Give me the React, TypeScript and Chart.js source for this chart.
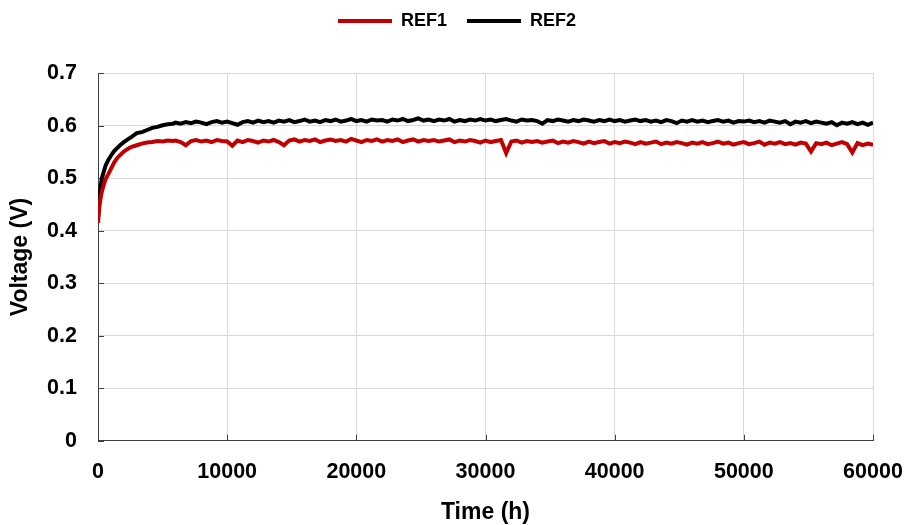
import React, { useEffect, useRef } from 'react';
import { Chart, registerables } from 'chart.js';

Chart.register(...registerables);

// Time points (h)
const hours = [
  0, 100, 200, 300, 450, 600, 800, 1000, 1250, 1500, 1750, 2000, 2300, 2600, 3000, 3400, 3800, 4200, 4600, 5000, 5400, 5800,
  6000, 6400, 6800, 7200, 7600, 8000, 8400, 8800, 9200, 9600,
  10000, 10400, 10800, 11200, 11600, 12000, 12400, 12800, 13200, 13600,
  14000, 14400, 14800, 15200, 15600, 16000, 16400, 16800, 17200, 17600,
  18000, 18400, 18800, 19200, 19600, 20000, 20400, 20800, 21200, 21600,
  22000, 22400, 22800, 23200, 23600, 24000, 24400, 24800, 25200, 25600,
  26000, 26400, 26800, 27200, 27600, 28000, 28400, 28800, 29200, 29600,
  30000, 30400, 30800, 31200, 31600, 32000, 32400, 32800, 33200, 33600,
  34000, 34400, 34800, 35200, 35600, 36000, 36400, 36800, 37200, 37600,
  38000, 38400, 38800, 39200, 39600, 40000, 40400, 40800, 41200, 41600,
  42000, 42400, 42800, 43200, 43600, 44000, 44400, 44800, 45200, 45600,
  46000, 46400, 46800, 47200, 47600, 48000, 48400, 48800, 49200, 49600,
  50000, 50400, 50800, 51200, 51600, 52000, 52400, 52800, 53200, 53600,
  54000, 54400, 54800, 55200, 55600, 56000, 56400, 56800, 57200, 57600,
  58000, 58400, 58800, 59200, 59600,
  60000,
];

// REF1 voltage (V)
const ref1 = [
  0.415, 0.445, 0.462, 0.475, 0.488, 0.499, 0.508, 0.518, 0.530, 0.539, 0.545, 0.551, 0.556, 0.560, 0.563, 0.566, 0.568, 0.569, 0.571, 0.570, 0.572, 0.571,
  0.572, 0.569, 0.563, 0.571, 0.573, 0.570, 0.572, 0.569, 0.573, 0.571,
  0.570, 0.562, 0.572, 0.569, 0.573, 0.571, 0.568, 0.572, 0.570, 0.573,
  0.569, 0.563, 0.572, 0.574, 0.570, 0.573, 0.571, 0.574, 0.569, 0.572,
  0.574, 0.571, 0.573, 0.570, 0.575, 0.572, 0.569, 0.573, 0.571, 0.574,
  0.570, 0.573, 0.571, 0.574, 0.569, 0.572, 0.574, 0.570, 0.573, 0.571,
  0.573, 0.570, 0.572, 0.574, 0.569, 0.572, 0.570, 0.573, 0.571, 0.568,
  0.572, 0.569, 0.571, 0.573, 0.548, 0.570, 0.572, 0.568, 0.571, 0.569,
  0.571, 0.568, 0.570, 0.572, 0.567, 0.570, 0.568, 0.571, 0.569, 0.566,
  0.570, 0.567, 0.569, 0.571, 0.566, 0.569, 0.567, 0.570, 0.568, 0.565,
  0.569, 0.566, 0.568, 0.570, 0.565, 0.568, 0.566, 0.569, 0.567, 0.564,
  0.568, 0.566, 0.569, 0.565, 0.567, 0.570, 0.566, 0.568, 0.564, 0.567,
  0.569, 0.565, 0.567, 0.570, 0.564, 0.568, 0.566, 0.569, 0.565, 0.567,
  0.564, 0.568, 0.566, 0.551, 0.567, 0.565, 0.568, 0.563, 0.566, 0.569,
  0.565, 0.549, 0.567, 0.563, 0.566,
  0.564,
];

// REF2 voltage (V)
const ref2 = [
  0.425, 0.462, 0.485, 0.500, 0.513, 0.525, 0.535, 0.543, 0.552, 0.558, 0.564, 0.569, 0.574, 0.579, 0.586, 0.588, 0.592, 0.596, 0.598, 0.601, 0.603, 0.604,
  0.606, 0.604, 0.607, 0.605, 0.608, 0.606, 0.603, 0.607, 0.609, 0.606,
  0.608, 0.605, 0.602, 0.607, 0.609, 0.606, 0.610, 0.607, 0.609, 0.606,
  0.610, 0.608, 0.611, 0.607, 0.609, 0.612, 0.608, 0.610, 0.607, 0.611,
  0.609, 0.612, 0.608, 0.610, 0.613, 0.609, 0.611, 0.608, 0.612, 0.610,
  0.611, 0.608, 0.612, 0.610, 0.613, 0.609, 0.611, 0.614, 0.610, 0.612,
  0.609, 0.612, 0.610, 0.613, 0.608, 0.611, 0.609, 0.612, 0.610, 0.613,
  0.610, 0.612, 0.609, 0.611, 0.613, 0.610, 0.608, 0.612, 0.610, 0.611,
  0.609, 0.604, 0.611, 0.609, 0.612, 0.610, 0.608, 0.611, 0.609, 0.612,
  0.610, 0.608, 0.611, 0.609, 0.612, 0.609, 0.611, 0.608, 0.610, 0.612,
  0.609, 0.611, 0.608, 0.610, 0.607, 0.611, 0.609, 0.605, 0.610, 0.608,
  0.611, 0.608, 0.610, 0.607, 0.609, 0.611, 0.608, 0.610, 0.606, 0.609,
  0.608, 0.610, 0.607, 0.609, 0.606, 0.610, 0.608, 0.606, 0.609, 0.603,
  0.608, 0.606, 0.609, 0.605, 0.608, 0.606, 0.604, 0.607, 0.601, 0.606,
  0.604, 0.607, 0.603, 0.606, 0.602,
  0.606,
];

const seriesNames = ['REF1', 'REF2'];
const seriesColors = ['#C00000', '#000000'];

const xTickValues = [0, 10000, 20000, 30000, 40000, 50000, 60000];
const xTickLabels = ['0', '10000', '20000', '30000', '40000', '50000', '60000'];
const yTickValues = [0, 0.1, 0.2, 0.3, 0.4, 0.5, 0.6, 0.7];
const yTickLabels = ['0', '0.1', '0.2', '0.3', '0.4', '0.5', '0.6', '0.7'];

const xTitle = 'Time (h)';
const yTitle = 'Voltage (V)';

export default function App() {
  const canvasRef = useRef<HTMLCanvasElement>(null);

  useEffect(() => {
    const FONT = "'Liberation Sans', Arial, sans-serif";
    const AXIS = '#404040';

    const innerTicks = {
      id: 'innerTicks',
      beforeDatasetsDraw(chart: any) {
        const { ctx, chartArea, scales } = chart;
        const x = scales.x;
        const y = scales.y;
        ctx.save();
        ctx.strokeStyle = AXIS;
        ctx.lineWidth = 1;
        ctx.beginPath();
        x.ticks.forEach((t: any) => {
          const px = Math.round(x.getPixelForValue(t.value)) + 0.5;
          ctx.moveTo(px, chartArea.bottom);
          ctx.lineTo(px, chartArea.bottom - 6);
        });
        y.ticks.forEach((t: any) => {
          const py = Math.round(y.getPixelForValue(t.value)) + 0.5;
          ctx.moveTo(chartArea.left, py);
          ctx.lineTo(chartArea.left + 6, py);
        });
        ctx.stroke();
        ctx.restore();
      },
    };

    // keep the legend row at the top of the canvas
    const legendTop = {
      id: 'legendTop',
      afterLayout(chart: any) {
        const lg = chart.legend;
        if (!lg) return;
        const h = lg.bottom - lg.top;
        lg.top = -8;
        lg.bottom = lg.top + h;
      },
    };

    const seriesData = [ref1, ref2];
    const chart = new Chart(canvasRef.current as HTMLCanvasElement, {
      type: 'line',
      data: {
        datasets: seriesNames.map((name, k) => ({
          label: name,
          data: hours.map((h, i) => ({ x: h, y: seriesData[k][i] })),
          borderColor: seriesColors[k],
          backgroundColor: seriesColors[k],
          borderWidth: 4,
          pointRadius: 0,
          tension: 0,
          fill: false,
        })),
      },
      options: {
        animation: false,
        responsive: true,
        maintainAspectRatio: false,
        layout: { padding: { top: 0, right: 33, bottom: 0, left: 41 } },
        plugins: {
          legend: {
            position: 'top',
            align: 'center',
            labels: {
              usePointStyle: true,
              pointStyle: 'line',
              pointStyleWidth: 54,
              padding: 20,
              color: '#000',
              font: { family: FONT, size: 18, weight: 'bold' },
              generateLabels: (c: any) => {
                const items = (Chart.defaults.plugins.legend.labels as any).generateLabels(c);
                items.forEach((it: any) => { it.lineWidth = 4; });
                return items;
              },
            },
          },
          tooltip: { enabled: false },
        },
        scales: {
          x: {
            type: 'linear',
            min: 0,
            max: 60000,
            afterBuildTicks: (s: any) => { s.ticks = xTickValues.map((v) => ({ value: v })); },
            ticks: {
              autoSkip: false,
              maxRotation: 0,
              padding: 18,
              color: '#000',
              font: { family: FONT, size: 21.5, weight: 'bold' },
              callback: (_v: any, i: number) => xTickLabels[i],
            },
            grid: { color: '#d9d9d9', lineWidth: 1, drawTicks: false },
            border: { color: AXIS, width: 1 },
            title: {
              display: true,
              text: xTitle,
              color: '#000',
              font: { family: FONT, size: 23, weight: 'bold' },
              padding: { top: 0, bottom: -1.5 },
            },
            afterFit: (s: any) => { s.height = 84.2; s.paddingLeft = 0; s.paddingRight = 0; },
          },
          y: {
            type: 'linear',
            min: 0,
            max: 0.7,
            afterBuildTicks: (s: any) => { s.ticks = yTickValues.map((v) => ({ value: v })); },
            ticks: {
              autoSkip: false,
              padding: 21,
              color: '#000',
              font: { family: FONT, size: 21.5, weight: 'bold' },
              callback: (_v: any, i: number) => yTickLabels[i],
            },
            grid: { color: '#d9d9d9', lineWidth: 1, drawTicks: false },
            border: { color: AXIS, width: 1 },
            title: {
              display: true,
              text: yTitle,
              color: '#000',
              font: { family: FONT, size: 23, weight: 'bold' },
              padding: { top: -33.8, bottom: 0 },
            },
            afterFit: (s: any) => { s.width = 57; s.paddingTop = 73.3; },
          },
        },
      } as any,
      plugins: [innerTicks, legendTop],
    });

    return () => chart.destroy();
  }, []);

  return (
    <div style={{ position: 'fixed', left: 0, top: 0, width: 906, height: 525, background: '#fff' }}>
      <canvas ref={canvasRef} />
    </div>
  );
}
